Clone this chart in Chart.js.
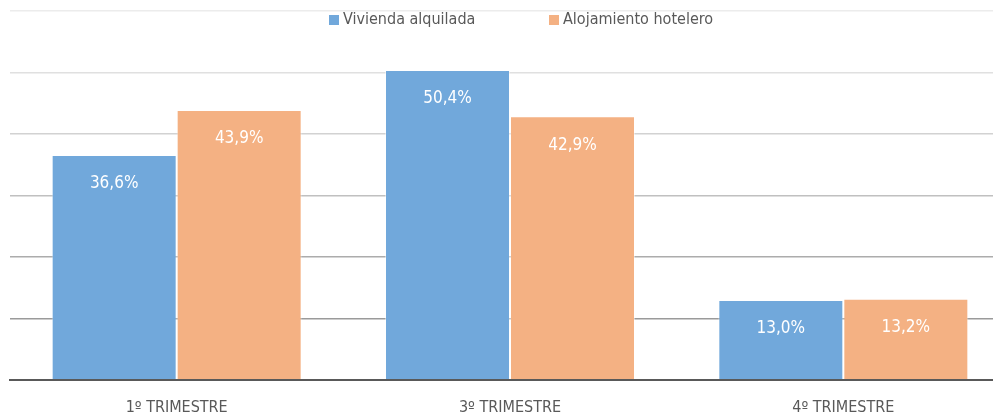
<!DOCTYPE html>
<html>
<head>
<meta charset="utf-8">
<script src="https://cdn.jsdelivr.net/npm/chart.js@4"></script>
<style>
  html, body { margin: 0; padding: 0; background: #fff; }
  #wrap { width: 993px; height: 419px; overflow: hidden; }
</style>
</head>
<body>
<div id="wrap"><canvas id="chart" width="1010" height="419"></canvas></div>
<script>
const categories = ['1º TRIMESTRE', '3º TRIMESTRE', '4º TRIMESTRE'];
const viviendaAlquilada = [36.6, 50.4, 13.0];
const alojamientoHotelero = [43.9, 42.9, 13.2];
const seriesNames = ['Vivienda alquilada', 'Alojamiento hotelero'];
const seriesColors = ['#71a8db', '#f4b183'];

const FONT = '"Liberation Sans Narrow", "DejaVu Sans Condensed", sans-serif';
const gridShades = ['#555555', '#9a9a9a', '#acacac', '#c0c0c0', '#d2d2d2', '#e0e0e0', '#ececec'];

// labels inside each bar, a bit below its top
const barLabels = {
    id: 'barLabels',
    afterDatasetsDraw(chart) {
        const ctx = chart.ctx;
        ctx.save();
        ctx.fillStyle = '#ffffff';
        ctx.font = '17px ' + FONT;
        ctx.textAlign = 'center';
        ctx.textBaseline = 'middle';
        chart.data.datasets.forEach((ds, i) => {
            chart.getDatasetMeta(i).data.forEach((bar, j) => {
                const txt = ds.data[j].toFixed(1).replace('.', ',') + '%';
                ctx.fillText(txt, bar.x, bar.y + 29);
            });
        });
        ctx.restore();
    }
};

// legend drawn on top of the plot, like the original
const topLegend = {
    id: 'topLegend',
    afterDraw(chart) {
        const ctx = chart.ctx;
        ctx.save();
        ctx.font = '16px ' + FONT;
        ctx.textBaseline = 'middle';
        const y = 20;
        const starts = [329, 549];
        chart.data.datasets.forEach((ds, i) => {
            ctx.fillStyle = ds.backgroundColor;
            ctx.fillRect(starts[i], y - 5, 10, 10);
            ctx.fillStyle = '#595959';
            ctx.fillText(ds.label, starts[i] + 14, y);
        });
        ctx.restore();
    }
};

new Chart(document.getElementById('chart'), {
    type: 'bar',
    data: {
        labels: categories,
        datasets: [
            {
                label: seriesNames[0],
                data: viviendaAlquilada,
                backgroundColor: seriesColors[0],
                borderColor: 'rgba(255,255,255,0.45)',
                borderWidth: 1,
            },
            {
                label: seriesNames[1],
                data: alojamientoHotelero,
                backgroundColor: seriesColors[1],
                borderColor: 'rgba(255,255,255,0.45)',
                borderWidth: 1,
            },
        ],
    },
    options: {
        responsive: false,
        animation: false,
        layout: { padding: { top: 11, left: 10, right: 0, bottom: 0 } },
        datasets: { bar: { categoryPercentage: 0.75, barPercentage: 1 } },
        plugins: {
            legend: { display: false },
            tooltip: { enabled: false },
        },
        scales: {
            x: {
                grid: { display: false, drawTicks: false },
                border: { color: '#595959', width: 2 },
                ticks: { color: '#595959', font: { family: FONT, size: 16 }, padding: 18 },
                afterFit: (scale) => { scale.height = 39; },
            },
            y: {
                min: 0,
                max: 60,
                ticks: { display: false, stepSize: 10 },
                grid: {
                    drawTicks: false,
                    color: (c) => gridShades[Math.round(c.tick.value / 10)] || '#ddd',
                    lineWidth: (c) => (c.tick.value === 0 ? 2 : 1.5),
                },
                border: { display: false },
            },
        },
    },
    plugins: [barLabels, topLegend],
});
</script>
</body>
</html>
